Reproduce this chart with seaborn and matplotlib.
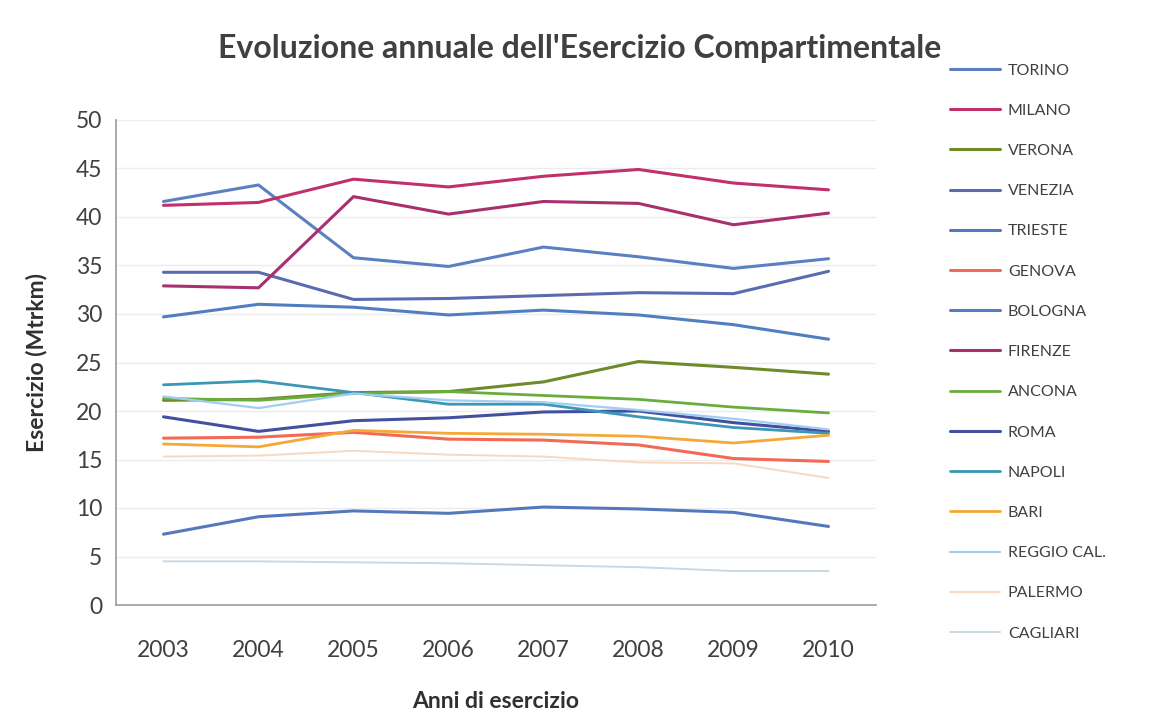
import matplotlib
matplotlib.use("Agg")
import matplotlib.pyplot as plt
import seaborn as sns
import pandas as pd

years = ["2003", "2004", "2005", "2006", "2007", "2008", "2009", "2010"]
cities = ["TORINO", "MILANO", "VERONA", "VENEZIA", "TRIESTE", "GENOVA", "BOLOGNA",
          "FIRENZE", "ANCONA", "ROMA", "NAPOLI", "BARI", "REGGIO CAL.", "PALERMO", "CAGLIARI"]

torino = [41.6, 43.3, 35.8, 34.9, 36.9, 35.9, 34.7, 35.7]
milano = [41.2, 41.5, 43.9, 43.1, 44.2, 44.9, 43.5, 42.8]
verona = [21.1, 21.2, 21.9, 22.0, 23.0, 25.1, 24.5, 23.8]
venezia = [34.3, 34.3, 31.5, 31.6, 31.9, 32.2, 32.1, 34.4]
trieste = [7.3, 9.1, 9.7, 9.45, 10.1, 9.9, 9.55, 8.1]
genova = [17.2, 17.3, 17.8, 17.1, 17.0, 16.5, 15.1, 14.8]
bologna = [29.7, 31.0, 30.7, 29.9, 30.4, 29.9, 28.9, 27.4]
firenze = [32.9, 32.7, 42.1, 40.3, 41.6, 41.4, 39.2, 40.4]
ancona = [21.3, 21.1, 21.8, 22.0, 21.6, 21.2, 20.4, 19.8]
roma = [19.4, 17.9, 19.0, 19.3, 19.9, 20.0, 18.8, 17.9]
napoli = [22.7, 23.1, 21.9, 20.7, 20.7, 19.4, 18.3, 17.7]
bari = [16.6, 16.3, 18.0, 17.7, 17.6, 17.4, 16.7, 17.5]
reggio = [21.5, 20.3, 21.8, 21.1, 20.9, 20.1, 19.2, 18.1]
palermo = [15.3, 15.4, 15.9, 15.5, 15.3, 14.7, 14.6, 13.1]
cagliari = [4.5, 4.5, 4.4, 4.3, 4.1, 3.9, 3.5, 3.5]

series = [torino, milano, verona, venezia, trieste, genova, bologna,
          firenze, ancona, roma, napoli, bari, reggio, palermo, cagliari]

colors = ["#5b80c2", "#c0306a", "#6f8a2a", "#5a6bb0", "#5578bd", "#f26a55", "#4f7fc0",
          "#a8306e", "#6aad3c", "#43509f", "#3a98b6", "#f5a835", "#a3cdf0", "#f9d8c2", "#c9d8e2"]
widths = [2.2, 2.2, 2.2, 2.2, 2.2, 2.2, 2.2, 2.2, 2.0, 2.2, 2.0, 2.0, 1.6, 1.4, 1.4]

rows = []
for c, vals in zip(cities, series):
    for i, (y, v) in enumerate(zip(years, vals)):
        rows.append({"Anno": i, "Citta": c, "Valore": v})
df = pd.DataFrame(rows)

sns.set_theme(style="white")
plt.rcParams['font.family'] = ['Lato', 'DejaVu Sans']

fig = plt.figure(figsize=(11.52, 7.19), dpi=100)
ax = fig.add_axes([116/1152, 1 - 605/719, 760/1152, 485/719])

palette = dict(zip(cities, colors))
sns.lineplot(data=df, x="Anno", y="Valore", hue="Citta", hue_order=cities,
             palette=palette, ax=ax, legend=False, sort=False)
for line, w in zip(ax.get_lines(), widths):
    line.set_linewidth(w)

ax.set_xlim(-0.5, 7.5)
ax.set_ylim(0, 50)
ax.set_yticks(range(0, 51, 5))
ax.set_xticks(range(8))
ax.set_xticklabels(years)
ax.tick_params(axis='both', labelsize=16.5, colors="#404040", length=0, pad=10)
ax.tick_params(axis='x', pad=25)
ax.grid(axis='y', color="#ececec", linewidth=1)
for s in ["top", "right"]:
    ax.spines[s].set_visible(False)
ax.spines["left"].set_color("#a0a0a0")
ax.spines["bottom"].set_color("#a0a0a0")
# category boundary ticks
ax.set_xticks([i - 0.5 for i in range(9)], minor=True)
ax.tick_params(axis='x', which='minor', length=6, color="#a0a0a0", direction='out')

ax.set_xlabel("Anni di esercizio", fontsize=16.5, fontweight='bold', color="#303030", labelpad=22)
ax.set_ylabel("Esercizio (Mtrkm)", fontsize=16.5, fontweight='bold', color="#303030", labelpad=20)

fig.text(0.503, 0.933, "Evoluzione annuale dell'Esercizio Compartimentale",
         ha='center', va='center', fontsize=23, fontweight='bold', color="#404040")

handles = [plt.Line2D([0], [0], color=c, lw=w) for c, w in zip(colors, widths)]
fig.legend(handles, cities, loc='upper left', bbox_to_anchor=(944/1152, 1 - 57/719),
           frameon=False, fontsize=11.5, labelspacing=1.63, handlelength=3.1,
           handletextpad=0.5, labelcolor="#404040", borderaxespad=0)

fig.savefig("out.png", dpi=100, facecolor="white")
